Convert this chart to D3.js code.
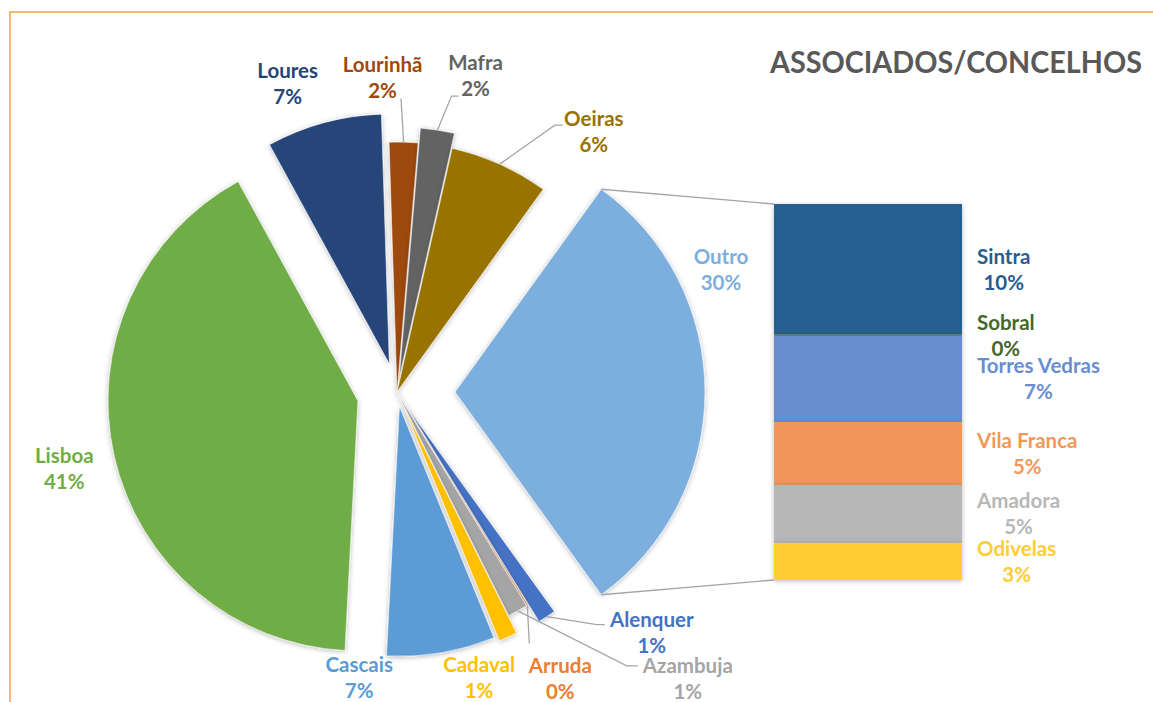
<!DOCTYPE html>
<html lang="pt">
<head>
    <meta charset="utf8">
    <script type="text/javascript" src="https://d3js.org/d3.v7.min.js"></script>
    <title>Associados/Concelhos</title>
    <style>
        body { margin: 0; background: #fff; }
        svg text { font-family: Lato, "Open Sans", sans-serif; font-weight: bold; }
    </style>
</head>
<body>
    <div class="chart"></div>
</body>
<script type="text/javascript">
    // dados do gráfico circular (percentagens)
    var pieNames  = ["Alenquer", "Arruda", "Azambuja", "Cadaval", "Cascais", "Lisboa", "Loures", "Lourinhã", "Mafra", "Oeiras"];
    var pieValues = [1.17, 0.1, 1.3, 1.2, 7.0, 41.2, 7.45, 1.85, 2.2, 6.4];
    var otherName = "Outro";
    // dados da barra secundária (compõem "Outro")
    var barNames  = ["Sintra", "Sobral", "Torres Vedras", "Vila Franca", "Amadora", "Odivelas"];
    var barValues = [10.45, 0.1, 6.9, 5.05, 4.65, 2.95];
    var title = "ASSOCIADOS/CONCELHOS";

    // cores
    var colors = {
        "Alenquer": "#4472C4", "Arruda": "#ED7D31", "Azambuja": "#A5A5A5", "Cadaval": "#FFC000",
        "Cascais": "#5B9BD5", "Lisboa": "#70AD47", "Loures": "#264478", "Lourinhã": "#9E480E",
        "Mafra": "#636363", "Oeiras": "#997300", "Outro": "#7CAFDD",
        "Sintra": "#255E91", "Sobral": "#43682B", "Torres Vedras": "#698ED0",
        "Vila Franca": "#F1975A", "Amadora": "#B7B7B7", "Odivelas": "#FFCD33"
    };
    // afastamento de cada fatia
    var explode = {"Alenquer": 20, "Cadaval": 19, "Cascais": 14.5, "Lisboa": 40, "Loures": 29, "Mafra": 15, "Outro": 58};
    // posição dos rótulos (desvio a partir do ponto exterior da fatia) e linhas de chamada
    var labelPos = {
        "Lisboa":   {dx: -50, dy: 12},
        "Loures":   {dx: -36, dy: -39},
        "Lourinhã": {dx: -21, dy: -64, leader: [[18.5, 20.5]]},
        "Mafra":    {dx: 38, dy: -54, leader: [[-24, 20], [-17, 20]]},
        "Oeiras":   {dx: 94, dy: -32, leader: [[-39, -7], [-31, -7]]},
        "Outro":    {dx: 16, dy: -122},
        "Cascais":  {dx: -82, dy: 25},
        "Cadaval":  {dx: -29, dy: 41},
        "Arruda":   {dx: 33, dy: 73, leader: [[-31, -35]]},
        "Azambuja": {dx: 170, dy: 68, leader: [[-61, -13], [-50, -13]]},
        "Alenquer": {dx: 105, dy: 16, leader: [[-55, -8], [-47, -8]]}
    };

    var width = 1153, height = 702;
    var cx = 397, cy = 392, R = 250;
    var fontSize = 20.5, lineGap = 26;

    var svg = d3.select("div.chart")
        .append("svg")
        .attr("width", width)
        .attr("height", height);

    var defs = svg.append("defs");
    defs.append("filter").attr("id", "shadow")
        .attr("x", "-20%").attr("y", "-20%").attr("width", "140%").attr("height", "140%")
        .append("feDropShadow")
        .attr("dx", 0).attr("dy", 1).attr("stdDeviation", 2.5)
        .attr("flood-color", "#000").attr("flood-opacity", 0.28);

    // moldura laranja
    svg.append("rect")
        .attr("x", 10).attr("y", 12)
        .attr("width", width + 20).attr("height", height + 20)
        .attr("fill", "#fff")
        .attr("stroke", "#F6B96B").attr("stroke-width", 2);

    // título
    svg.append("text")
        .attr("x", 770).attr("y", 73)
        .attr("font-size", 31)
        .attr("textLength", 372)
        .attr("lengthAdjust", "spacingAndGlyphs")
        .attr("fill", "#595959")
        .text(title);

    // dados da pizza
    var outroTotal = d3.sum(barValues);
    var pieData = pieNames.map(function(n, i){ return {name: n, value: pieValues[i]}; });
    pieData.push({name: otherName, value: outroTotal});
    var total = d3.sum(pieData, function(d){ return d.value; });
    var outroAngle = outroTotal / total * 2 * Math.PI;
    var start = Math.PI / 2 + outroAngle / 2;

    var pie = d3.pie().sort(null).value(function(d){ return d.value; })
        .startAngle(start).endAngle(start + 2 * Math.PI);
    var arc = d3.arc().innerRadius(0).outerRadius(R);
    var arcs = pie(pieData);

    arcs.forEach(function(a){
        var mid = (a.startAngle + a.endAngle) / 2;
        var e = explode[a.data.name] || 0;
        a.tx = cx + e * Math.sin(mid);
        a.ty = cy - e * Math.cos(mid);
        a.ox = a.tx + R * Math.sin(mid);
        a.oy = a.ty - R * Math.cos(mid);
    });

    var pct = function(v){ return Math.round(v / total * 100) + "%"; };

    // fatias
    svg.append("g").attr("class", "slices")
        .selectAll("path")
        .data(arcs)
        .enter()
        .append("path")
        .attr("transform", function(a){ return "translate(" + a.tx + "," + a.ty + ")"; })
        .attr("d", arc)
        .attr("fill", function(a){ return colors[a.data.name]; })
        .attr("stroke", "#fff")
        .attr("stroke-width", 0.6)
        .attr("filter", "url(#shadow)");

    // barra secundária
    var barX = 774, barW = 188, barTop = 204, barBottom = 580;
    var y = d3.scaleLinear().domain([0, outroTotal]).range([barTop, barBottom]);
    var stack = [], acc = 0;
    barNames.forEach(function(n, i){
        stack.push({name: n, value: barValues[i], y0: acc, y1: acc + barValues[i]});
        acc += barValues[i];
    });
    svg.append("g").attr("class", "bar")
        .selectAll("rect")
        .data(stack)
        .enter()
        .append("rect")
        .attr("x", barX)
        .attr("y", function(d){ return y(d.y0); })
        .attr("width", barW)
        .attr("height", function(d){ return Math.max(1.2, y(d.y1) - y(d.y0)); })
        .attr("fill", function(d){ return colors[d.name]; })
        .attr("filter", "url(#shadow)");

    // linhas de ligação "Outro" -> barra
    var outro = arcs[arcs.length - 1];
    var conn = svg.append("g").attr("stroke", "#A6A6A6").attr("stroke-width", 1.4);
    conn.append("line")
        .attr("x1", outro.tx + R * Math.sin(outro.startAngle))
        .attr("y1", outro.ty - R * Math.cos(outro.startAngle))
        .attr("x2", barX).attr("y2", y(0));
    conn.append("line")
        .attr("x1", outro.tx + R * Math.sin(outro.endAngle))
        .attr("y1", outro.ty - R * Math.cos(outro.endAngle))
        .attr("x2", barX).attr("y2", y(outroTotal));

    // rótulos da pizza
    var labels = svg.append("g").attr("class", "labels");
    arcs.forEach(function(a){
        var p = labelPos[a.data.name];
        var lx = a.ox + p.dx, ly = a.oy + p.dy;
        var col = colors[a.data.name];
        if (p.leader) {
            var pts = [[a.ox, a.oy]].concat(p.leader.map(function(q){ return [lx + q[0], ly + q[1]]; }));
            labels.append("path")
                .attr("d", d3.line()(pts))
                .attr("fill", "none")
                .attr("stroke", "#A6A6A6")
                .attr("stroke-width", 1.3);
        }
        [a.data.name, pct(a.value)].forEach(function(t, k){
            labels.append("text")
                .attr("x", lx)
                .attr("y", ly + (k === 0 ? -lineGap / 2 : lineGap / 2) + fontSize * 0.36)
                .attr("text-anchor", "middle")
                .attr("font-size", fontSize)
                .attr("fill", col)
                .text(t);
        });
    });

    // rótulos da barra
    var blabels = svg.append("g").attr("class", "bar-labels");
    stack.forEach(function(d){
        var mid = (y(d.y0) + y(d.y1)) / 2;
        var g = blabels.append("g");
        var lines = [d.name, pct(d.value)];
        var texts = lines.map(function(t, k){
            return g.append("text")
                .attr("y", mid + (k === 0 ? -lineGap / 2 : lineGap / 2) + fontSize * 0.36)
                .attr("text-anchor", "middle")
                .attr("font-size", fontSize)
                .attr("fill", colors[d.name])
                .text(t);
        });
        var w = d3.max(texts, function(t){ return t.node().getComputedTextLength(); });
        texts.forEach(function(t){ t.attr("x", barX + barW + 15 + w / 2); });
    });
</script>
</html>
